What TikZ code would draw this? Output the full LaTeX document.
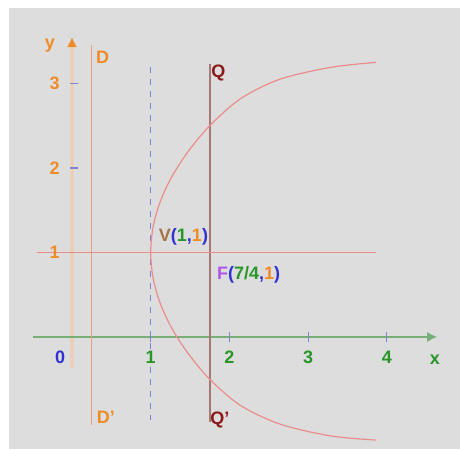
\documentclass[tikz,border=0pt]{standalone}
\usepackage{fontspec}
\setmainfont{Liberation Sans}
\usetikzlibrary{arrows.meta, positioning, calc}

\definecolor{bggray}{RGB}{221,221,221}
\definecolor{axisgreen}{RGB}{120,175,120}
\definecolor{axistan}{RGB}{234,208,186}
\definecolor{dirorange}{RGB}{230,160,125}
\definecolor{dashblue}{RGB}{125,125,220}
\definecolor{qbrown}{RGB}{165,120,115}
\definecolor{curvered}{RGB}{235,140,140}
\definecolor{tickblue}{RGB}{130,130,215}
\definecolor{txtorange}{RGB}{240,140,40}
\definecolor{txtgreen}{RGB}{40,150,40}
\definecolor{txtblue}{RGB}{50,50,210}
\definecolor{txtbrown}{RGB}{165,115,70}
\definecolor{txtpurple}{RGB}{175,85,235}
\definecolor{txtmaroon}{RGB}{140,25,25}

\begin{document}
\begin{tikzpicture}[>=stealth, x=39.35pt, y=42.25pt,
    lbl/.style={font=\fontsize{9}{10}\selectfont\bfseries, inner sep=0pt}]
    \useasboundingbox (-0.915,-1.325) rectangle (4.930,3.988);
    \fill[bggray] (-0.80,-1.325) rectangle (4.930,3.893);

    % Line ends
    \coordinate (Xs) at (-0.50,0);
    \coordinate (Xe) at (4.64,0);
    \coordinate (Ys) at (0,-0.37);
    \coordinate (Ye) at (0,3.55);
    \coordinate (Dtop) at (0.25,3.46);
    \coordinate (Dbot) at (0.25,-1.04);
    \coordinate (Vtop) at (1,3.19);
    \coordinate (Vbot) at (1,-0.98);
    \coordinate (Qtop) at (1.75,3.23);
    \coordinate (Qbot) at (1.75,-1.01);
    \coordinate (Hs) at (-0.45,1);
    \coordinate (He) at (3.86,1);

    % Axes
    \draw[axistan, line width=2.2pt, -{Latex[length=5pt, width=5pt, color=txtorange]}] (Ys) -- (Ye);
    \draw[axisgreen, line width=0.7pt, -{Latex[length=5pt, width=5pt]}] (Xs) -- (Xe);
    \foreach \i in {1,2,3,4}
        \draw[tickblue, line width=0.6pt] (\i,-0.06) -- (\i,0.06);
    \foreach \j in {1,2,3}
        \draw[tickblue, line width=0.6pt] (-0.03,\j) -- (0.07,\j);

    % Lines
    \draw[dirorange, line width=0.8pt] (Dtop) -- (Dbot);
    \draw[dashblue, line width=0.6pt, dashed] (Vtop) -- (Vbot);
    \draw[qbrown, line width=0.8pt] (Qtop) -- (Qbot);
    \draw[curvered, line width=0.7pt] (Hs) -- (He);

    % Curve
    \draw[curvered, line width=0.6pt] plot[smooth] coordinates {
        (3.86,3.25) (3.28,3.19) (2.64,3.05) (2.14,2.82) (1.75,2.50)
        (1.48,2.20) (1.27,1.90) (1.12,1.60) (1.03,1.30) (1,1)
        (1.03,0.70) (1.12,0.40) (1.27,0.10) (1.48,-0.20) (1.75,-0.50)
        (2.14,-0.81) (2.64,-1.03) (3.28,-1.17) (3.86,-1.22)};

    % Nodes
    \node[lbl, txtorange] (Y) at (-0.28,3.45) {y};
    \node[lbl, txtgreen] (X) at (4.61,-0.27) {x};
    \node[lbl, txtblue] (O) at (-0.15,-0.24) {0};
    \foreach \i in {1,2,3,4}
        \node[lbl, txtgreen] (X\i) at (\i,-0.24) {\i};
    \foreach \j in {1,2,3}
        \node[lbl, txtorange] (Y\j) at (-0.22,\j) {\j};
    \node[lbl, txtorange] (D) at (0.39,3.31) {D};
    \node[lbl, txtorange] (Dp) at (0.43,-0.95) {D'};
    \node[lbl, txtmaroon] (Q) at (1.86,3.12) {Q};
    \node[lbl, txtmaroon] (Qp) at (1.88,-0.98) {Q'};
    \node[lbl, anchor=west] (V) at (1.10,1.18)
        {\color{txtbrown}V\color{txtblue}(\color{txtgreen}1\color{txtblue},\color{txtorange}1\color{txtblue})};
    \node[lbl, anchor=west] (F) at (1.84,0.73)
        {\color{txtpurple}F\color{txtblue}(\color{txtgreen}7/4\color{txtblue},\color{txtorange}1\color{txtblue})};
\end{tikzpicture}
\end{document}
